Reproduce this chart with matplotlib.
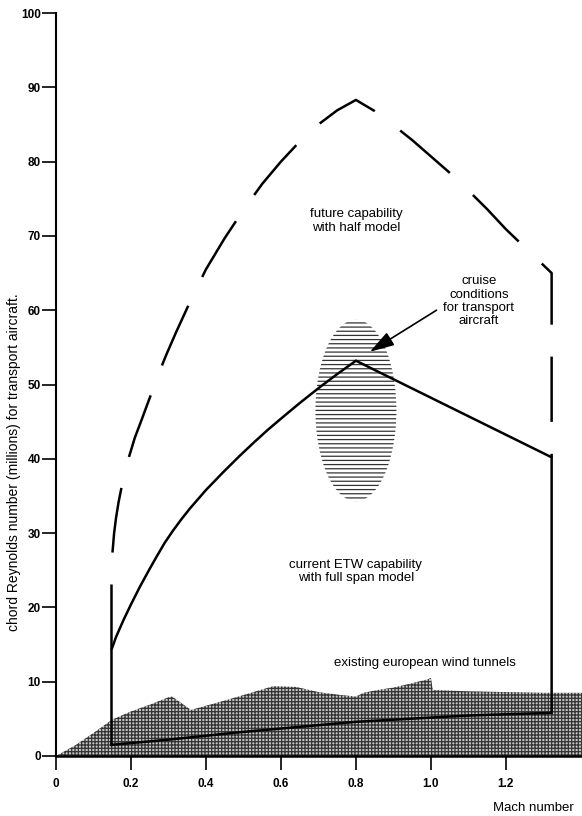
import numpy as np
import matplotlib.pyplot as plt
from matplotlib.patches import Ellipse

plt.rcParams['font.family'] = ['Liberation Sans', 'DejaVu Sans']
plt.rcParams['lines.scale_dashes'] = False
plt.rcParams['hatch.linewidth'] = 0.9

# existing european wind tunnels (upper envelope)
mach_wt = [0, 0.05, 0.10, 0.15, 0.20, 0.25, 0.30, 0.31, 0.36, 0.41, 0.46, 0.52, 0.58, 0.64,
           0.70, 0.76, 0.80, 0.82, 0.86, 0.90, 0.95, 0.99, 1.00, 1.005, 1.10, 1.20, 1.30, 1.403]
re_wt = [0, 1.4, 3.1, 4.9, 6.0, 6.9, 7.9, 8.0, 6.2, 6.9, 7.6, 8.5, 9.4, 9.3,
         8.6, 8.2, 8.0, 8.5, 8.9, 9.2, 9.8, 10.3, 10.5, 8.9, 8.7, 8.6, 8.5, 8.5]

# current ETW capability with full span model (closed boundary)
mach_etw = [0.148, 0.148, 0.16, 0.18, 0.20, 0.224, 0.25, 0.268, 0.29, 0.313, 0.335, 0.357,
            0.40, 0.446, 0.49, 0.53, 0.565, 0.60, 0.65, 0.70, 0.75, 0.80,
            1.322, 1.322, 1.13, 1.08, 0.80, 0.49, 0.30, 0.148]
re_etw = [1.5, 14.3, 16.0, 18.3, 20.4, 22.8, 25.2, 26.8, 28.7, 30.4, 31.9, 33.3,
          35.8, 38.2, 40.4, 42.3, 43.9, 45.4, 47.5, 49.5, 51.4, 53.2,
          40.2, 5.8, 5.5, 5.4, 4.6, 3.2, 2.2, 1.5]

# future capability with half model
mach_half = [0.148, 0.148, 0.150, 0.155, 0.160, 0.167, 0.175, 0.185, 0.195, 0.21, 0.228,
             0.25, 0.27, 0.295, 0.32, 0.36, 0.40, 0.45, 0.50, 0.55, 0.60, 0.65, 0.70, 0.75,
             0.80, 0.85, 0.90, 0.95, 1.00, 1.05, 1.10, 1.15, 1.20, 1.26, 1.322, 1.322]
re_half = [14.3, 23.3, 27.0, 30.0, 32.0, 34.2, 36.2, 38.4, 40.3, 42.8, 45.2,
           48.2, 51.0, 54.1, 57.0, 61.4, 65.5, 69.7, 73.5, 77.0, 80.0, 82.7, 85.0, 86.9,
           88.3, 86.8, 84.9, 82.9, 80.7, 78.5, 76.1, 73.6, 70.9, 68.0, 65.0, 40.2]

# cruise conditions for transport aircraft
cruise_center = (0.80, 46.5)
cruise_width = 0.216
cruise_height = 24.4
arrow_tail = (1.015, 60.0)
arrow_head = (0.837, 54.4)

x_ticks = [0, 0.2, 0.4, 0.6, 0.8, 1.0, 1.2]
x_labels = ['0', '0.2', '0.4', '0.6', '0.8', '1.0', '1.2']
y_ticks = list(range(0, 101, 10))

fig = plt.figure(figsize=(5.82, 8.16), dpi=100)
ax = fig.add_axes([56 / 582, 60 / 816, 1 - 56 / 582, 743 / 816])

ax.fill_between(mach_wt, 0, re_wt, facecolor='#c4c4c4', edgecolor='#333333',
                hatch='+++++', linewidth=0, zorder=1)

ell = Ellipse(cruise_center, cruise_width, cruise_height, facecolor='none',
              edgecolor='#333333', hatch='----', linewidth=0, zorder=2)
ax.add_patch(ell)

ax.plot(mach_etw, re_etw, color='black', lw=1.8, solid_joinstyle='miter', zorder=4)
ax.plot(mach_half, re_half, color='black', lw=1.8, linestyle=(0, (47, 23)),
        dash_capstyle='butt', zorder=4)

ax.annotate('', xy=arrow_head, xytext=arrow_tail,
            arrowprops=dict(arrowstyle='-|>,head_length=1.5,head_width=0.45',
                            color='black', lw=1.2, shrinkA=0, shrinkB=0), zorder=5)

ax.text(1.128, 61.2, 'cruise\nconditions\nfor transport\naircraft', ha='center', va='center',
        fontsize=9.5, linespacing=1.15)
ax.text(0.80, 72.0, 'future capability\nwith half model', ha='center', va='center',
        fontsize=9.5, linespacing=1.15)
ax.text(0.80, 24.8, 'current ETW capability\nwith full span model', ha='center', va='center',
        fontsize=9.5, linespacing=1.15)
ax.text(0.985, 12.5, 'existing european wind tunnels', ha='center', va='center', fontsize=9.5)

ax.set_xlim(0, 1.403)
ax.set_ylim(0, 100)
ax.set_xticks(x_ticks)
ax.set_xticklabels(x_labels)
ax.set_yticks(y_ticks)
for s in ['top', 'right']:
    ax.spines[s].set_visible(False)
ax.spines['left'].set_linewidth(1.5)
ax.spines['bottom'].set_linewidth(1.8)
ax.tick_params(axis='both', direction='out', length=10, width=1.2, labelsize=8.5, pad=3)
ax.tick_params(axis='y', pad=1)
ax.tick_params(axis='x', pad=6)
for lbl in ax.get_xticklabels() + ax.get_yticklabels():
    lbl.set_fontweight('bold')

fig.text(533 / 582, 1 - 808 / 816, 'Mach number', ha='center', va='center', fontsize=9.5)
fig.text(14 / 582, 1 - 462 / 816, 'chord Reynolds number (millions) for transport aircraft.',
         rotation=90, ha='center', va='center', fontsize=10)

fig.savefig('out.png', dpi=100)
